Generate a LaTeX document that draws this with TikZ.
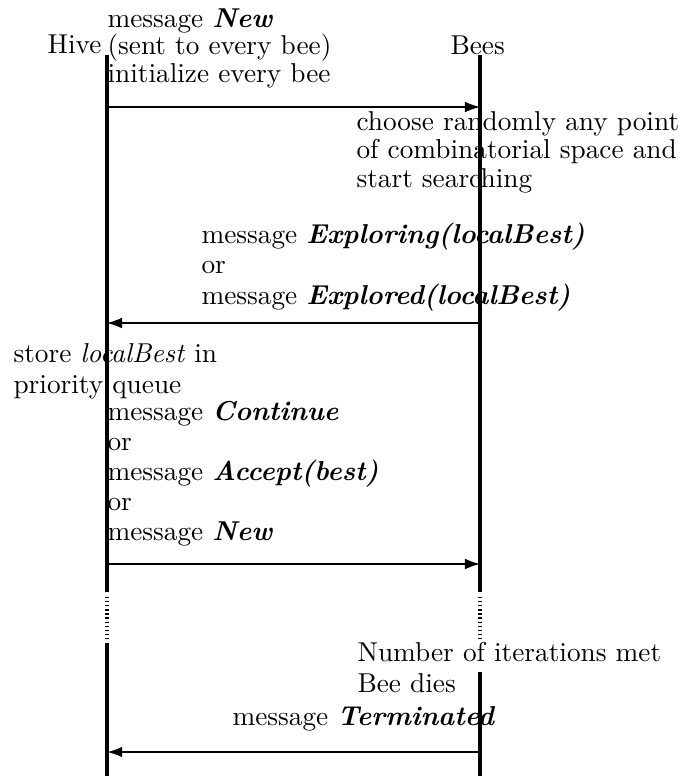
\documentclass[tikz,border=0pt]{standalone}
\usetikzlibrary{arrows.meta}
\begin{document}
\begin{tikzpicture}[x=0.3663pt,y=-0.3663pt,
  lifeline/.style={line width=1.5pt},
  gap/.style={line width=1.3pt,dash pattern=on 0.45pt off 1.05pt},
  msg/.style={line width=0.5pt,-{Latex[length=5.5pt,width=3.9pt]}},
  lbl/.style={inner sep=0pt,anchor=base west,align=left,font=\fontsize{10}{10.7}\selectfont}]
\useasboundingbox (0,0) rectangle (678,776);
% lifeline points
\coordinate (hTop) at (107,55);
\coordinate (hA) at (107,592);
\coordinate (hD1) at (107,597);
\coordinate (hD2) at (107,640);
\coordinate (hB) at (107,643);
\coordinate (hBot) at (107,776);
\coordinate (bTop) at (480,55);
\coordinate (bA) at (480,592);
\coordinate (bD1) at (480,597);
\coordinate (bD2) at (480,640);
\coordinate (bB) at (480,672);
\coordinate (bBot) at (480,776);
% message points
\coordinate (h1) at (107,107); \coordinate (b1) at (480,107);
\coordinate (h2) at (107,323); \coordinate (b2) at (480,323);
\coordinate (h3) at (107,564); \coordinate (b3) at (480,564);
\coordinate (h4) at (107,752); \coordinate (b4) at (480,752);
% lifelines
\draw[lifeline] (hTop) -- (hA);
\draw[gap] (hD1) -- (hD2);
\draw[lifeline] (hB) -- (hBot);
\draw[lifeline] (bTop) -- (bA);
\draw[gap] (bD1) -- (bD2);
\draw[lifeline] (bB) -- (bBot);
% headers
\node[lbl] (hive) at (47,53) {Hive};
\node[lbl] (bees) at (450,54) {Bees};
% texts (anchored at the baseline of the last line)
\node[lbl,font=\fontsize{10}{10.07}\selectfont] (t1) at (107,82) {message \textbf{\textit{New}}\\(sent to every bee)\\initialize every bee};
\node[lbl,font=\fontsize{10}{10.26}\selectfont] (t2) at (356,187) {choose randomly any point\\of combinatorial space and\\start searching};
\node[lbl,font=\fontsize{10}{11.17}\selectfont] (t3) at (201,304) {message \textbf{\textit{Exploring(localBest)}}\\or\\message \textbf{\textit{Explored(localBest)}}};
\node[lbl,font=\fontsize{10}{11}\selectfont] (t4) at (13,393) {store \textit{localBest} in\\priority queue};
\node[lbl,font=\fontsize{10}{10.9}\selectfont] (t5) at (107,540) {message \textbf{\textit{Continue}}\\or\\message \textbf{\textit{Accept(best)}}\\or\\message \textbf{\textit{New}}};
\node[lbl,font=\fontsize{10}{11}\selectfont] (t6) at (357,692) {Number of iterations met\\Bee dies};
\node[lbl] (t7) at (232,725) {message \textbf{\textit{Terminated}}};
% messages
\draw[msg] (h1) -- (b1);
\draw[msg,line width=0.4pt] (b2) -- (h2);
\draw[msg] (h3) -- (b3);
\draw[msg,line width=0.8pt] (b4) -- (h4);
\end{tikzpicture}
\end{document}
